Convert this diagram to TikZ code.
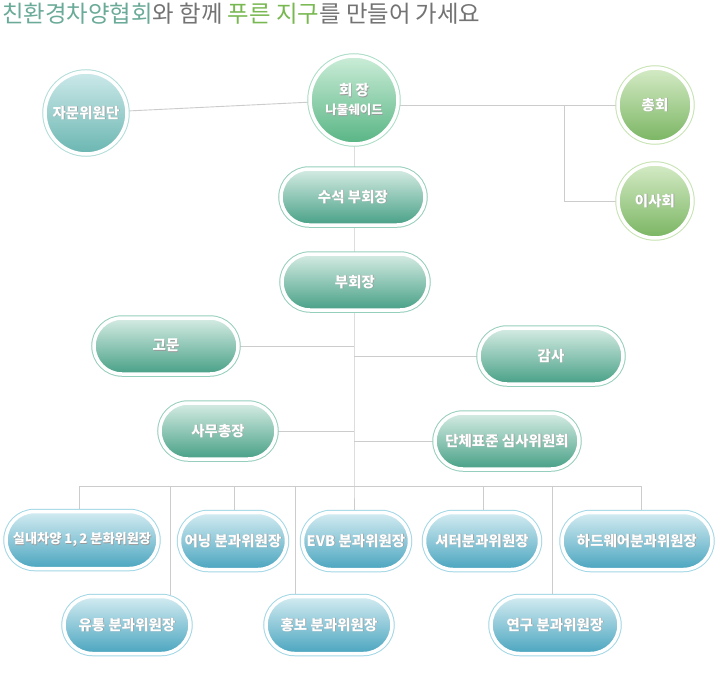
\documentclass[tikz,border=0pt]{standalone}
\usepackage{fontspec}
\newfontfamily\kr{Noto Sans CJK KR}
\usetikzlibrary{shapes.misc,backgrounds}
\definecolor{gtop}{HTML}{D6ECE4}
\definecolor{gmid}{HTML}{84C2AE}
\definecolor{gbot}{HTML}{47A086}
\definecolor{gring}{HTML}{96CEBD}
\definecolor{btop}{HTML}{D4ECF2}
\definecolor{bmid}{HTML}{88C7D7}
\definecolor{bbot}{HTML}{4AA5BF}
\definecolor{bring}{HTML}{A2D7E6}
\definecolor{jtop}{HTML}{CDE9EA}
\definecolor{jbot}{HTML}{6AB6B1}
\definecolor{jring}{HTML}{B2DDD9}
\definecolor{htop}{HTML}{CBEDD8}
\definecolor{hbot}{HTML}{58B584}
\definecolor{hring}{HTML}{ABDDC6}
\definecolor{ctop}{HTML}{D5EBC6}
\definecolor{cbot}{HTML}{7AB562}
\definecolor{cring}{HTML}{C6E3B2}
\definecolor{ttl}{HTML}{6AAA98}
\definecolor{tgray}{HTML}{737373}
\definecolor{tgreen}{HTML}{78B850}
\definecolor{lnc}{HTML}{CCCCCC}
\newcommand{\shtxt}[1]{\makebox[0pt][l]{\hspace{0.6pt}\raisebox{-0.7pt}{\color{black!40}#1}}#1}
\begin{document}
\begin{tikzpicture}[x=1pt,y=-1pt,
  conn/.style={draw=lnc, line width=0.9pt},
  boxbase/.style={inner sep=0pt, draw=white, line width=3.5pt, text=white,
     font=\kr\bfseries\fontsize{14.5}{17}\selectfont},
  gpill/.style={boxbase, rounded rectangle, minimum height=56pt,
     top color=gtop, middle color=gmid, bottom color=gbot,
     preaction={draw=gring, line width=5.5pt}},
  bpill/.style={boxbase, rounded rectangle, minimum height=57pt,
     top color=btop, middle color=bmid, bottom color=bbot,
     preaction={draw=bring, line width=5.5pt}},
  jcirc/.style={boxbase, circle, minimum size=82pt,
     top color=jtop, bottom color=jbot,
     preaction={draw=jring, line width=5.5pt}},
  hcirc/.style={boxbase, circle, minimum size=88pt,
     top color=htop, bottom color=hbot,
     preaction={draw=hring, line width=5.5pt}},
  ccirc/.style={boxbase, circle, minimum size=74pt,
     top color=ctop, bottom color=cbot,
     preaction={draw=cring, line width=5.5pt}}
]
\useasboundingbox (0,0) rectangle (723,677);

% title
\node[anchor=west, inner sep=0pt, font=\kr\fontsize{23.4}{27}\selectfont] (title) at (2,14)
  {\textcolor{ttl}{친환경차양협회}\textcolor{tgray}{와 함께 }\textcolor{tgreen}{푸른 지구}\textcolor{tgray}{를 만들어 가세요}};

% top circles
\node[jcirc] (jamun) at (86,113) {\shtxt{자문위원단}};
\node[hcirc, align=center] (hoe) at (354,100)
  {\shtxt{회 장}\\[2pt]{\fontsize{12.5}{15}\selectfont\shtxt{나물쉐이드}}};
\node[ccirc] (chong) at (655,105) {\shtxt{총회}};
\node[ccirc] (isa) at (655,201) {\shtxt{이사회}};

% green pills
\node[gpill, minimum width=144pt] (suseok) at (353,197) {\shtxt{수석 부회장}};
\node[gpill, minimum width=146pt] (bu) at (355,282) {\shtxt{부회장}};
\node[gpill, minimum width=144pt] (gomun) at (166,346) {\shtxt{고문}};
\node[gpill, minimum width=144pt] (gamsa) at (551,356) {\shtxt{감사}};
\node[gpill, minimum width=116pt] (samu) at (218,431) {\shtxt{사무총장}};
\node[gpill, minimum width=144pt] (dan) at (507,441) {\shtxt{단체표준 심사위원회}};

% blue pills
\node[bpill, minimum width=152pt, font=\kr\bfseries\fontsize{13.2}{16}\selectfont] (sil) at (82,540) {\shtxt{실내차양 1,\,2 분화위원장}};
\node[bpill, minimum width=107pt] (eo) at (233,541) {\shtxt{어닝 분과위원장}};
\node[bpill, minimum width=107pt] (evb) at (356,541) {\shtxt{EVB 분과위원장}};
\node[bpill, minimum width=115pt] (shutter) at (482,541) {\shtxt{셔터분과위원장}};
\node[bpill, minimum width=150pt] (hard) at (637,541) {\shtxt{하드웨어분과위원장}};
\node[bpill, minimum width=126pt] (yu) at (127,625) {\shtxt{유통 분과위원장}};
\node[bpill, minimum width=126pt] (hong) at (329,625) {\shtxt{홍보 분과위원장}};
\node[bpill, minimum width=128pt] (yeon) at (555,625) {\shtxt{연구 분과위원장}};

% connectors
\coordinate (br) at (564,105);
\coordinate (spb) at (354,486);
\coordinate (busl) at (79,486);
\coordinate (busr) at (641,486);
\coordinate (dyu) at (170,486);
\coordinate (deo) at (234,486);
\coordinate (dhong) at (295,486);
\coordinate (dsh) at (483,486);
\coordinate (dyeon) at (552,486);
\begin{scope}[on background layer]
\fill[white] (0,0) rectangle (723,677);
\draw[conn] (jamun) -- (hoe);
\draw[conn] (chong.west -| hoe.east) -- (chong.west);
\draw[conn] (br) |- (isa.west);
\draw[conn] (hoe.south) -- (spb) -- (spb |- evb.north);
\draw[conn] (gomun.east) -- (gomun.east -| spb);
\draw[conn] (gamsa.west) -- (gamsa.west -| spb);
\draw[conn] (samu.east) -- (samu.east -| spb);
\draw[conn] (dan.west) -- (dan.west -| spb);
\draw[conn] (busl) -- (busr);
\draw[conn] (busl) -- (busl |- sil.north);
\draw[conn] (dyu) -- (dyu |- yu.north);
\draw[conn] (deo) -- (deo |- eo.north);
\draw[conn] (dhong) -- (dhong |- hong.north);
\draw[conn] (dsh) -- (dsh |- shutter.north);
\draw[conn] (dyeon) -- (dyeon |- yeon.north);
\draw[conn] (busr) -- (busr |- hard.north);
\end{scope}
\end{tikzpicture}
\end{document}
